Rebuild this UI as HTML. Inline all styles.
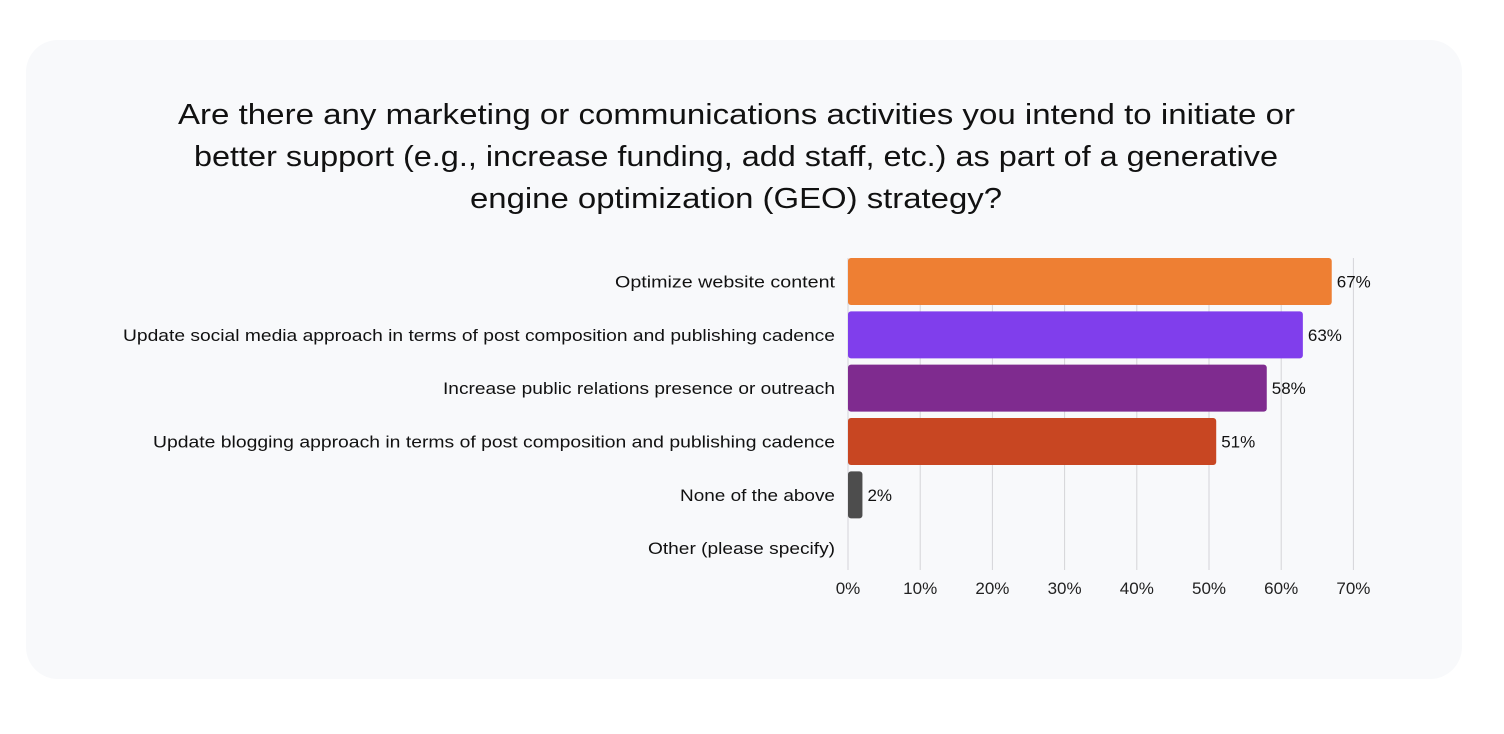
<!DOCTYPE html>
<html><head><meta charset="utf-8"><style>
html,body{margin:0;padding:0;background:#fff;}
body{width:1504px;height:734px;position:relative;overflow:hidden;font-family:"Liberation Sans",sans-serif;}
#card{position:absolute;left:26px;top:40px;width:1436px;height:639px;background:#f8f9fb;border-radius:32px;}
svg{position:absolute;left:0;top:0;}
</style></head><body>
<div id="card"></div>
<svg id="chart" width="1504" height="734">
<g font-size="29" fill="#111" font-family="Liberation Sans, sans-serif">
<text x="178" y="124" textLength="1117" lengthAdjust="spacingAndGlyphs">Are there any marketing or communications activities you intend to initiate or</text>
<text x="194" y="166" textLength="1084" lengthAdjust="spacingAndGlyphs">better support (e.g., increase funding, add staff, etc.) as part of a generative</text>
<text x="470" y="208" textLength="532" lengthAdjust="spacingAndGlyphs">engine optimization (GEO) strategy?</text>
</g>
<g id="grid"></g><g id="bars"></g><g id="labels"></g><g id="ticks"></g>
</svg>
<script>
const categories=["Optimize website content","Update social media approach in terms of post composition and publishing cadence","Increase public relations presence or outreach","Update blogging approach in terms of post composition and publishing cadence","None of the above","Other (please specify)"];
const values=[67,63,58,51,2,0];
const valueLabels=["67%","63%","58%","51%","2%",""];
const colors=["#ee7f33","#803eec","#7f2b8f","#c84622","#4d4d4d","#999"];
const tickValues=[0,10,20,30,40,50,60,70];
const tickLabels=["0%","10%","20%","30%","40%","50%","60%","70%"];
const labelWidths=[220,712,392,682,155,187];
const NS="http://www.w3.org/2000/svg";
const x0=848,pxPer=7.22,rowTop=255,pitch=53.33;
function xs(v){return x0+v*pxPer;}
function ys(i){return rowTop+i*pitch;}
function mk(t,a,p){const e=document.createElementNS(NS,t);for(const k in a)e.setAttribute(k,a[k]);p.appendChild(e);return e;}
const grid=document.getElementById('grid'),bars=document.getElementById('bars'),labels=document.getElementById('labels'),ticks=document.getElementById('ticks');
tickValues.forEach((v,i)=>{
 const l=mk('line',{x1:xs(v),x2:xs(v),y1:258,y2:570,stroke:'#d4d4d8','stroke-width':1},grid);
 
 
 const t=mk('text',{x:xs(v),y:594,'text-anchor':'middle','font-size':17,fill:'#222'},ticks);
 t.textContent=tickLabels[i];
 
 
});
categories.forEach((c,i)=>{
 const y=ys(i)+3,h=47;
 const t=mk('text',{x:835,y:y+h/2+6,'text-anchor':'end','font-size':17,fill:'#111',textLength:labelWidths[i],lengthAdjust:'spacingAndGlyphs'},labels);
 t.textContent=c;
 
 
 if(values[i]>0){
  const w=xs(values[i])-x0;
  const r=mk('rect',{x:x0,y:y,width:w,height:h,rx:3,fill:colors[i]},bars);
  
  
  const v=mk('text',{x:xs(values[i])+5,y:y+h/2+6,'font-size':17,fill:'#111'},labels);
  v.textContent=valueLabels[i];
  
  
 }
});
</script>
</body></html>
